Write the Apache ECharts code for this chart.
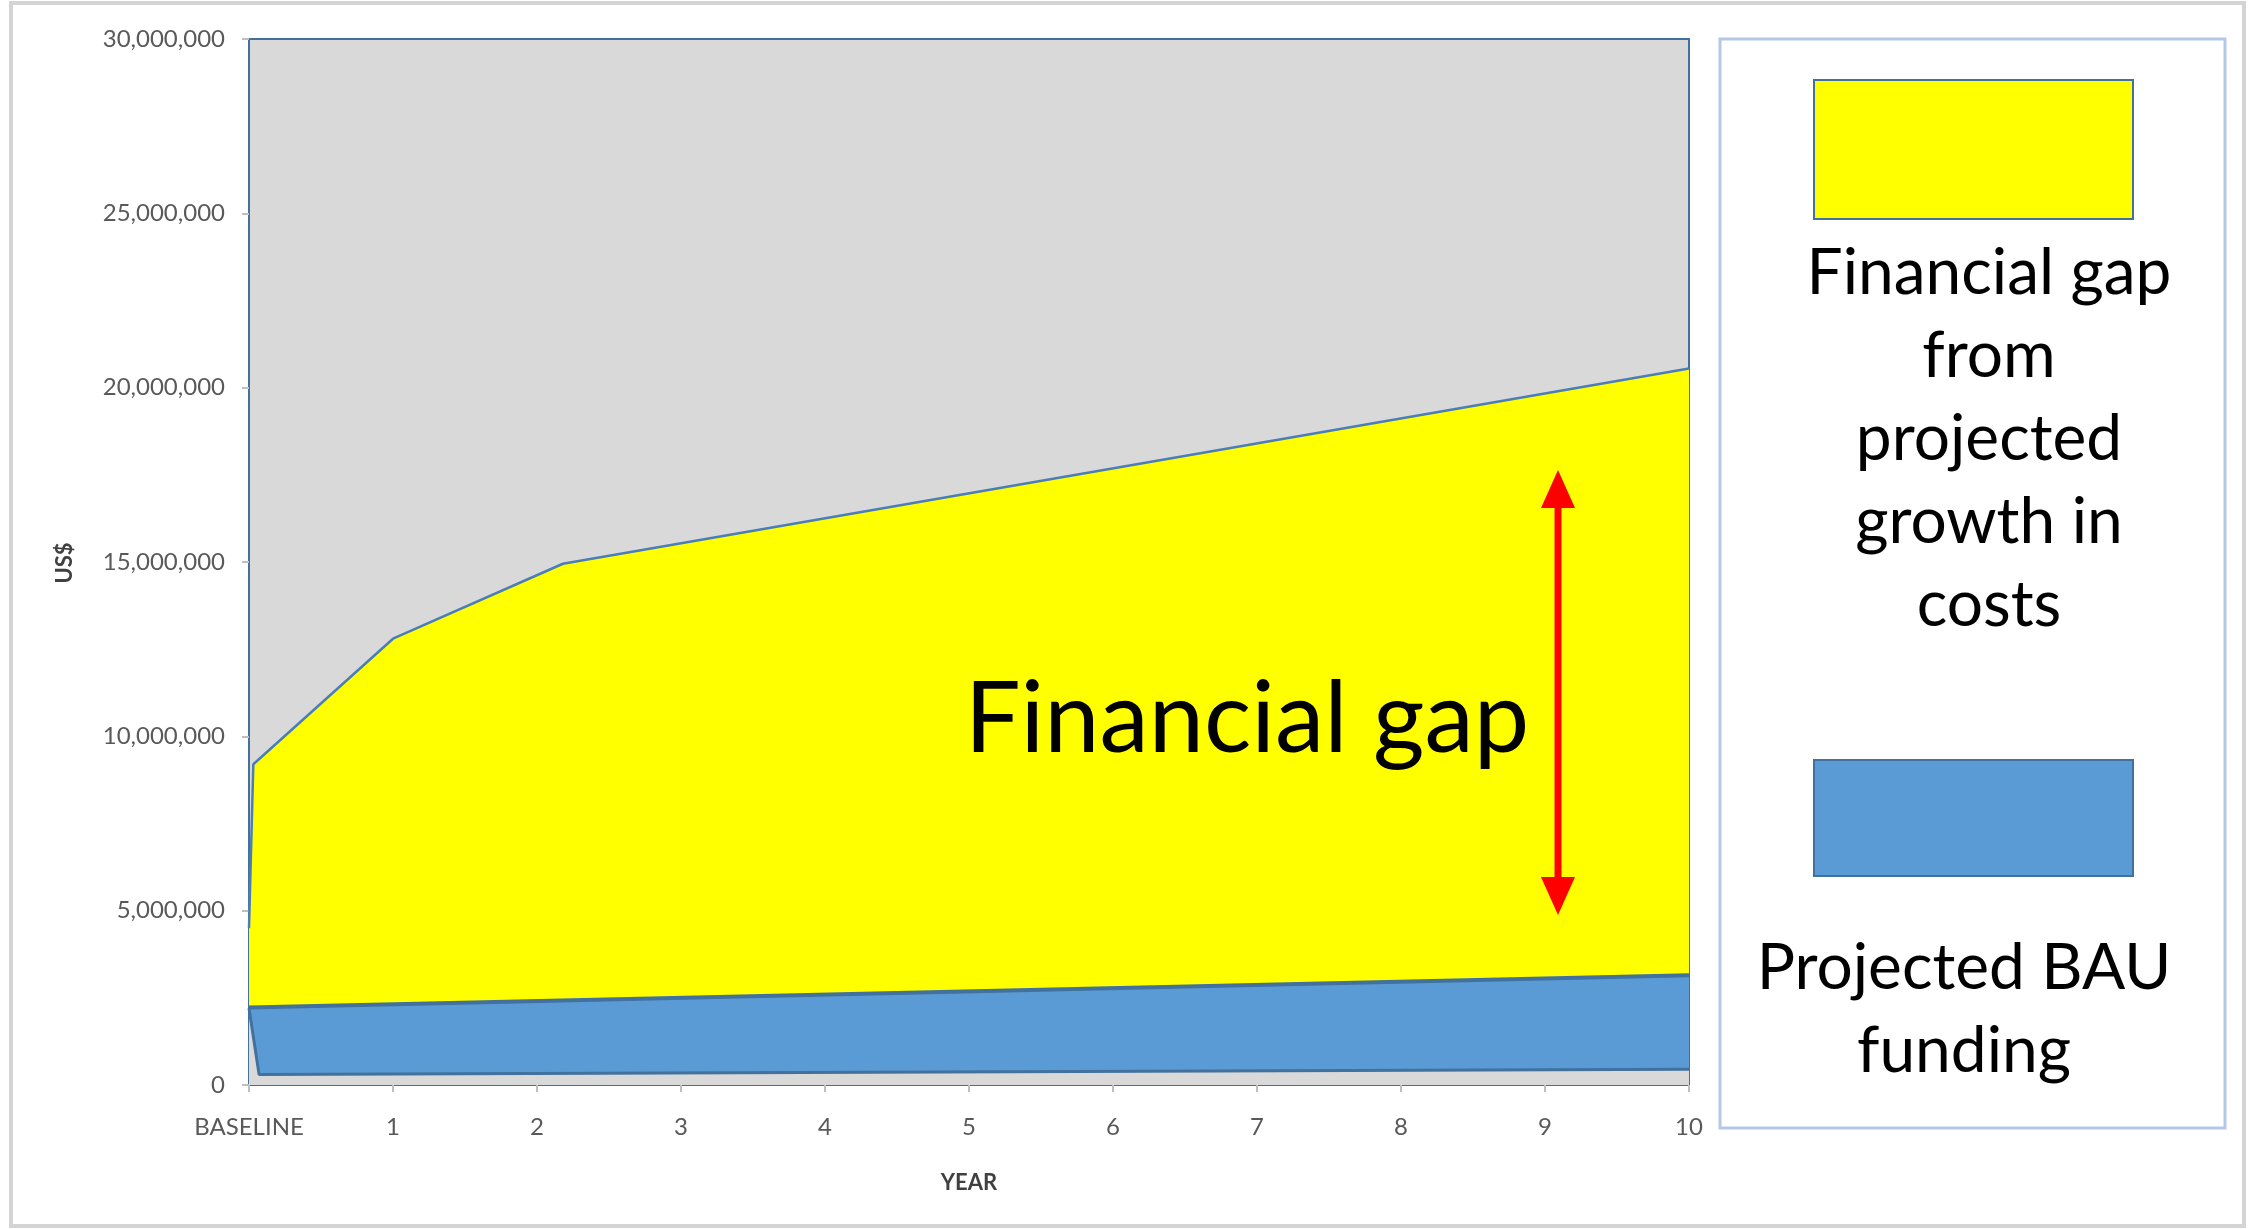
<!DOCTYPE html>
<html>
<head>
<meta charset="utf-8">
<script src="https://cdn.jsdelivr.net/npm/echarts@6/dist/echarts.min.js"></script>
<style>
html,body{margin:0;padding:0;background:#fff;}
#chart{width:2248px;height:1229px;}
</style>
</head>
<body>
<div id="chart"></div>
<script>
// ---- data ----
const xLabels = ['BASELINE','1','2','3','4','5','6','7','8','9','10'];
const yTicks = [0, 5000000, 10000000, 15000000, 20000000, 25000000, 30000000];
// top of the "financial gap" (yellow) band: [year, US$]
const gapTop = [[0, 4500000], [0.03, 9200000], [1, 12800000], [2.18, 14950000], [10, 20550000]];
// top of the "projected BAU funding" (blue) band
const bauTop = [[0, 2220000], [10, 3150000]];
// thin base strip under the blue band
const baseStrip = [[0, 2200000], [0.07, 300000], [10, 450000]];

const FONT = 'Lato';
const chart = echarts.init(document.getElementById('chart'));

const option = {
  backgroundColor: '#ffffff',
  animation: false,
  grid: {
    left: 249, right: 2248 - 1689, top: 39, bottom: 1229 - 1085,
    show: true, backgroundColor: '#d9d9d9', borderColor: '#41719c', borderWidth: 2
  },
  xAxis: {
    type: 'value', min: 0, max: 10, interval: 1,
    axisLine: { show: false },
    axisTick: { show: true, length: 7, lineStyle: { color: '#bfbfbf', width: 2 } },
    splitLine: { show: false },
    axisLabel: {
      margin: 30, color: '#595959', fontSize: 24, fontFamily: FONT,
      formatter: v => xLabels[Math.round(v)]
    }
  },
  yAxis: {
    type: 'value', min: yTicks[0], max: yTicks[yTicks.length - 1], interval: 5000000,
    axisLine: { show: false },
    axisTick: { show: true, length: 7, lineStyle: { color: '#bfbfbf', width: 2 } },
    splitLine: { show: false },
    axisLabel: {
      margin: 24, color: '#595959', fontSize: 24, fontFamily: FONT,
      formatter: v => Number(v).toLocaleString('en-US')
    }
  },
  series: [
    {
      name: 'Financial gap from projected growth in costs', type: 'line', data: gapTop,
      symbol: 'none', lineStyle: { color: '#4a7ebb', width: 2.5 },
      areaStyle: { color: '#ffff00', opacity: 1 }, z: 2
    },
    {
      name: 'Projected BAU funding', type: 'line', data: bauTop,
      symbol: 'none', lineStyle: { color: '#41719c', width: 4 },
      areaStyle: { color: '#5b9bd5', opacity: 1 }, z: 3
    },
    {
      name: 'Base', type: 'line', data: baseStrip,
      symbol: 'none', lineStyle: { color: '#41719c', width: 3 },
      areaStyle: { color: '#d9d9d9', opacity: 1 }, z: 4
    }
  ],
  graphic: [
    { type: 'rect', shape: { x: 11, y: 3, width: 2233, height: 1223 },
      style: { fill: 'none', stroke: '#d4d4d4', lineWidth: 4 }, z: -10 },
    { type: 'rect', shape: { x: 1720, y: 39, width: 505, height: 1089 },
      style: { fill: '#ffffff', stroke: '#b4c7e7', lineWidth: 3 } },
    { type: 'rect', shape: { x: 1814, y: 80, width: 319, height: 139 },
      style: { fill: '#ffff00', stroke: '#41719c', lineWidth: 2 } },
    { type: 'rect', shape: { x: 1814, y: 760, width: 319, height: 116 },
      style: { fill: '#5b9bd5', stroke: '#41719c', lineWidth: 2 } },
    { type: 'text', x: 1989, y: 232,
      style: { text: 'Financial gap\nfrom\nprojected\ngrowth in\ncosts', fill: '#000',
        font: '64px ' + FONT, textAlign: 'center', textVerticalAlign: 'top', lineHeight: 83 } },
    { type: 'text', x: 1964, y: 927,
      style: { text: 'Projected BAU\nfunding', fill: '#000',
        font: '64px ' + FONT, textAlign: 'center', textVerticalAlign: 'top', lineHeight: 83 } },
    { type: 'text', x: 1247, y: 720, z: 10,
      style: { text: 'Financial gap', fill: '#000', font: '99px ' + FONT,
        textAlign: 'center', textVerticalAlign: 'middle' } },
    { type: 'line', shape: { x1: 1558, y1: 500, x2: 1558, y2: 885 }, z: 10,
      style: { stroke: '#ff0000', lineWidth: 7 } },
    { type: 'polygon', shape: { points: [[1558, 470], [1541, 508], [1575, 508]] }, z: 10,
      style: { fill: '#ff0000' } },
    { type: 'polygon', shape: { points: [[1558, 915], [1541, 877], [1575, 877]] }, z: 10,
      style: { fill: '#ff0000' } },
    { type: 'text', x: 969, y: 1183,
      style: { text: 'YEAR', fill: '#404040', font: 'bold 22px ' + FONT,
        textAlign: 'center', textVerticalAlign: 'middle' } },
    { type: 'text', x: 65, y: 563, rotation: Math.PI / 2,
      style: { text: 'US$', fill: '#404040', font: 'bold 22px ' + FONT,
        textAlign: 'center', textVerticalAlign: 'middle' } }
  ]
};
chart.setOption(option);
</script>
</body>
</html>
